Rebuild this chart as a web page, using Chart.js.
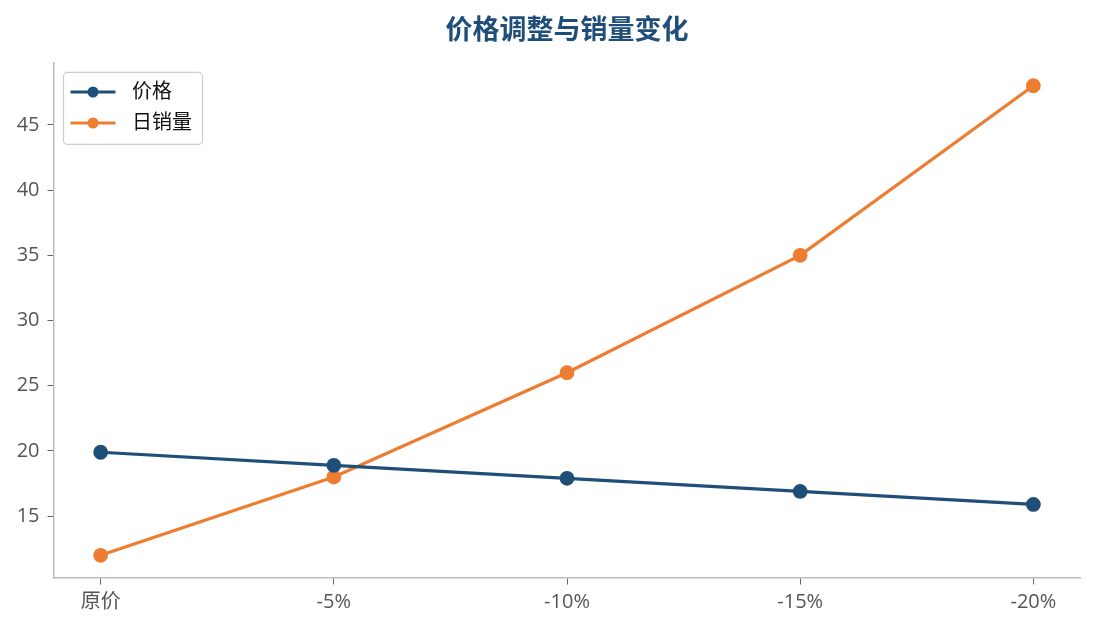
<!DOCTYPE html>
<html lang="zh-CN">
<head>
    <meta charset="UTF-8">
    <title>价格调整与销量变化</title>
    <script src="https://cdn.jsdelivr.net/npm/chart.js"></script>
    <style>
        html, body { margin: 0; padding: 0; background: #fff; }
        #wrap { width: 1095px; height: 630px; }
    </style>
</head>
<body>
    <div id="wrap"><canvas id="priceChart" width="1095" height="630"></canvas></div>

    <script>
        // 数据
        const categories = ['原价', '-5%', '-10%', '-15%', '-20%'];
        const priceValues = [19.9, 18.9, 17.9, 16.9, 15.9];
        const salesValues = [12, 18, 26, 35, 48];
        const yTicks = [15, 20, 25, 30, 35, 40, 45];

        const navy = '#1f4e79';
        const orange = '#ed7d31';
        const font = '"Open Sans", "Noto Sans CJK SC", sans-serif';
        const titleFont = '"Noto Sans CJK SC", sans-serif';

        const toPoints = vals => vals.map((v, i) => ({ x: i, y: v }));

        // 图例画在绘图区左上角
        const insideLegend = {
            id: 'insideLegend',
            afterDraw(chart) {
                const ctx = chart.ctx;
                const area = chart.chartArea;
                const x0 = area.left + 9.5, y0 = area.top + 10;
                const w = 139, h = 72, rowH = 31;
                ctx.save();
                ctx.fillStyle = 'rgba(255,255,255,0.9)';
                ctx.strokeStyle = '#cccccc';
                ctx.lineWidth = 1.2;
                ctx.beginPath();
                ctx.roundRect(x0, y0, w, h, 4);
                ctx.fill();
                ctx.stroke();
                chart.data.datasets.forEach((ds, i) => {
                    const cy = y0 + 19.6 + i * rowH;
                    ctx.strokeStyle = ds.borderColor;
                    ctx.lineWidth = 3.2;
                    ctx.beginPath();
                    ctx.moveTo(x0 + 7, cy);
                    ctx.lineTo(x0 + 52, cy);
                    ctx.stroke();
                    ctx.fillStyle = ds.borderColor;
                    ctx.beginPath();
                    ctx.arc(x0 + 29.5, cy, 5.5, 0, Math.PI * 2);
                    ctx.fill();
                    ctx.fillStyle = '#111';
                    ctx.font = '20px ' + font;
                    ctx.textBaseline = 'middle';
                    ctx.fillText(ds.label, x0 + 68.5, cy);
                });
                ctx.restore();
            }
        };

        new Chart(document.getElementById('priceChart'), {
            type: 'line',
            data: {
                datasets: [{
                    label: '价格',
                    data: toPoints(priceValues),
                    borderColor: navy,
                    backgroundColor: navy,
                    borderWidth: 3.2,
                    pointRadius: 5.8,
                    pointHoverRadius: 5.8,
                    tension: 0,
                    fill: false
                }, {
                    label: '日销量',
                    data: toPoints(salesValues),
                    borderColor: orange,
                    backgroundColor: orange,
                    borderWidth: 3.2,
                    pointRadius: 5.8,
                    pointHoverRadius: 5.8,
                    tension: 0,
                    fill: false
                }]
            },
            options: {
                responsive: false,
                animation: false,
                layout: { padding: { left: 0, right: 15, top: 0, bottom: 0 } },
                plugins: {
                    legend: { display: false },
                    tooltip: { enabled: false },
                    title: {
                        display: true,
                        fullSize: false,
                        text: '价格调整与销量变化',
                        color: navy,
                        font: { family: titleFont, size: 27, weight: 'bold' },
                        padding: { top: 13, bottom: 17 }
                    }
                },
                scales: {
                    x: {
                        type: 'linear',
                        min: -0.2,
                        max: 4.2,
                        afterBuildTicks: s => { s.ticks = categories.map((c, i) => ({ value: i })); },
                        afterFit: s => { s.height = 52; },
                        ticks: {
                            callback: v => categories[v],
                            color: '#555',
                            font: { family: font, size: 20 },
                            padding: 6,
                            maxRotation: 0
                        },
                        grid: { display: true, drawOnChartArea: false, drawTicks: true, tickLength: 6.5, color: '#666' },
                        border: { display: true, color: '#bbbbbb', width: 1.5 }
                    },
                    y: {
                        min: 10.26,
                        max: 49.79,
                        afterBuildTicks: s => { s.ticks = yTicks.map(v => ({ value: v })); },
                        afterFit: s => { s.width = 54; },
                        ticks: {
                            color: '#555',
                            font: { family: font, size: 20 },
                            padding: 8
                        },
                        grid: { display: true, drawOnChartArea: false, drawTicks: true, tickLength: 6.5, color: '#666' },
                        border: { display: true, color: '#bbbbbb', width: 1.5 }
                    }
                }
            },
            plugins: [insideLegend]
        });
    </script>
</body>
</html>
